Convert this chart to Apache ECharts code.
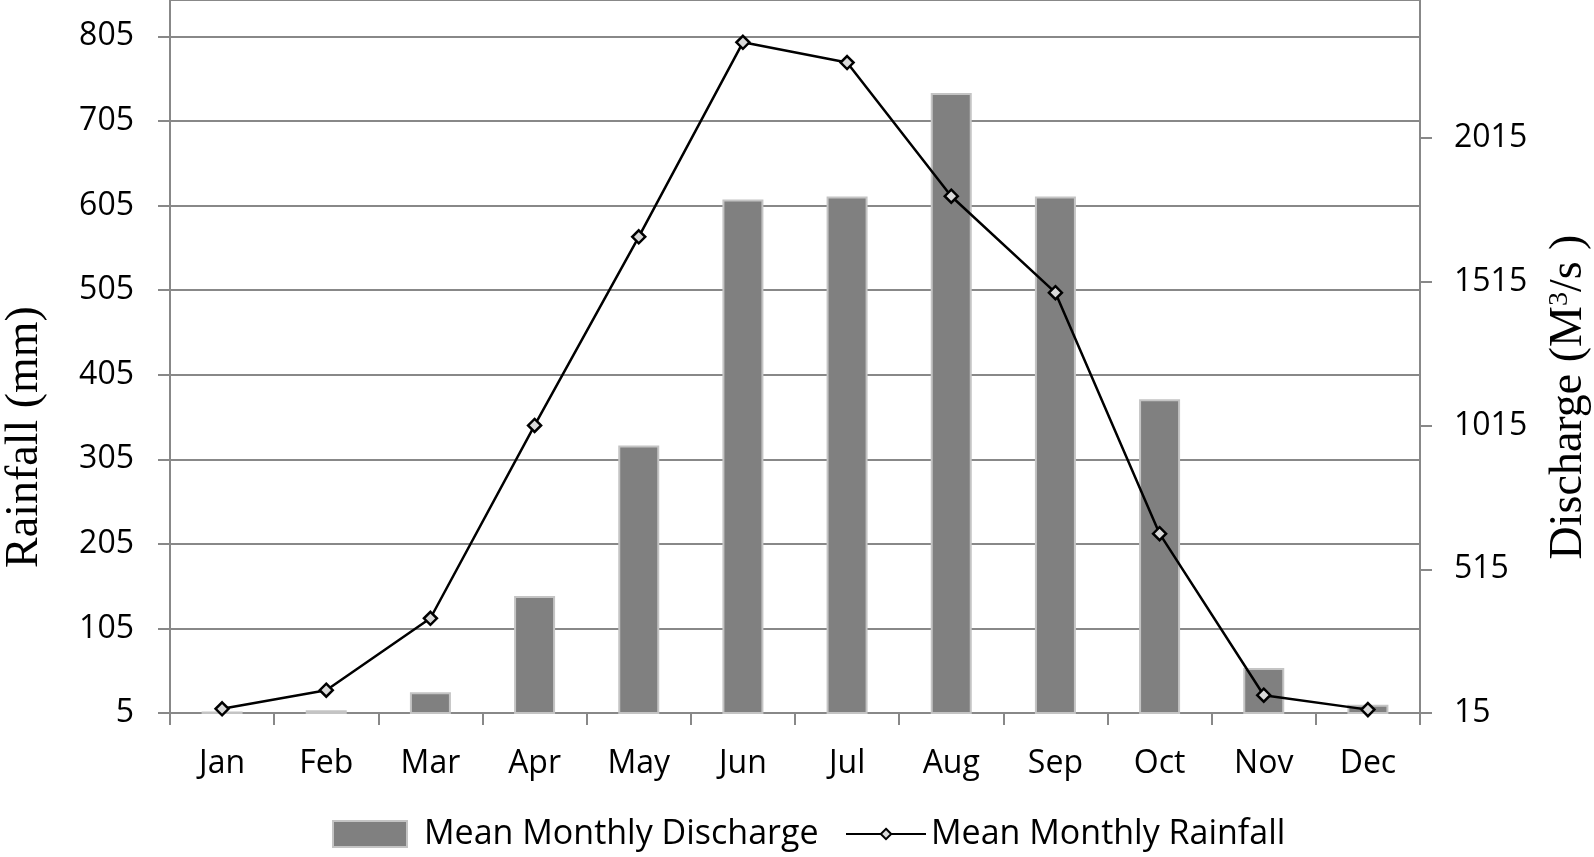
<!DOCTYPE html>
<html>
<head>
<meta charset="utf-8">
<title>Mean monthly rainfall and discharge</title>
<script src="https://cdn.jsdelivr.net/npm/echarts@6/dist/echarts.min.js"></script>
<style>
  html, body { margin: 0; padding: 0; background: #fff; }
  #main { width: 1594px; height: 857px; }
</style>
</head>
<body>
<div id="main"></div>
<script>
// data
var months = ['Jan', 'Feb', 'Mar', 'Apr', 'May', 'Jun', 'Jul', 'Aug', 'Sep', 'Oct', 'Nov', 'Dec'];
var discharge = [20, 25, 87, 422, 946, 1802, 1812, 2172, 1812, 1107, 172, 44];   // M3/s, right axis
var rainfall = [10, 32, 117, 345, 568, 798, 774, 616, 502, 217, 26, 9];          // mm, left axis

var labelFont = 'Open Sans';
var titleFont = 'Liberation Serif';
var axisGray = '#888888';

var chart = echarts.init(document.getElementById('main'));

var option = {
  animation: false,
  grid: { left: 170, right: 174, top: 0, bottom: 144 },
  legend: [
    {
      data: ['Mean Monthly Discharge'],
      icon: 'rect',
      left: 327, top: 812,
      itemWidth: 74, itemHeight: 26,
      textStyle: { fontFamily: labelFont, fontSize: 34, color: '#000', padding: [0, 0, 0, 12] }
    },
    {
      data: ['Mean Monthly Rainfall'],
      left: 840, top: 812,
      itemWidth: 80, itemHeight: 13,
      textStyle: { fontFamily: labelFont, fontSize: 34, color: '#000' }
    }
  ],
  xAxis: {
    type: 'category',
    data: months,
    boundaryGap: true,
    axisLine: { lineStyle: { color: axisGray, width: 2 } },
    axisTick: { show: true, length: 12, lineStyle: { color: axisGray, width: 2 } },
    axisLabel: { margin: 35, fontFamily: labelFont, fontSize: 32, color: '#000' }
  },
  yAxis: [
    {
      type: 'value',
      min: 5, max: 848, interval: 100,
      axisLine: { show: true, lineStyle: { color: axisGray, width: 2 } },
      axisTick: { show: true, length: 12, lineStyle: { color: axisGray, width: 2 } },
      axisLabel: { margin: 36, fontFamily: labelFont, fontSize: 32, color: '#000', showMaxLabel: false },
      splitLine: { show: true, lineStyle: { color: axisGray, width: 2 } }
    },
    {
      type: 'value',
      min: 15, max: 2496, interval: 500,
      axisLine: { show: true, lineStyle: { color: axisGray, width: 2 } },
      axisTick: { show: true, length: 12, lineStyle: { color: axisGray, width: 2 } },
      axisLabel: {
        margin: 34, fontFamily: labelFont, fontSize: 32, color: '#000', showMaxLabel: false,
        formatter: function (v) { return String(v); }
      },
      splitLine: { show: false }
    }
  ],
  graphic: [
    {
      type: 'text',
      x: 25, y: 437,
      rotation: Math.PI / 2,
      style: {
        text: 'Rainfall (mm)',
        font: '46px "Liberation Serif"',
        fill: '#000',
        align: 'center',
        verticalAlign: 'middle'
      }
    },
    {
      type: 'text',
      x: 1569, y: 397,
      rotation: Math.PI / 2,
      style: {
        text: 'Discharge (M{sup|3}/s )',
        fontFamily: titleFont,
        fontSize: 46,
        fill: '#000',
        align: 'center',
        verticalAlign: 'middle',
        rich: {
          sup: { fontFamily: titleFont, fontSize: 28, verticalAlign: 'top', fill: '#000' }
        }
      }
    }
  ],
  series: [
    {
      name: 'Mean Monthly Discharge',
      type: 'bar',
      yAxisIndex: 1,
      data: discharge,
      barWidth: 41,
      itemStyle: { color: '#808080', borderColor: '#c4c4c4', borderWidth: 2 }
    },
    {
      name: 'Mean Monthly Rainfall',
      type: 'line',
      yAxisIndex: 0,
      data: rainfall,
      symbol: 'diamond',
      symbolSize: 13,
      showAllSymbol: true,
      lineStyle: { color: '#000', width: 2.5 },
      itemStyle: { color: '#d9d9d9', borderColor: '#000', borderWidth: 2.5 }
    }
  ]
};

chart.setOption(option);
</script>
</body>
</html>
